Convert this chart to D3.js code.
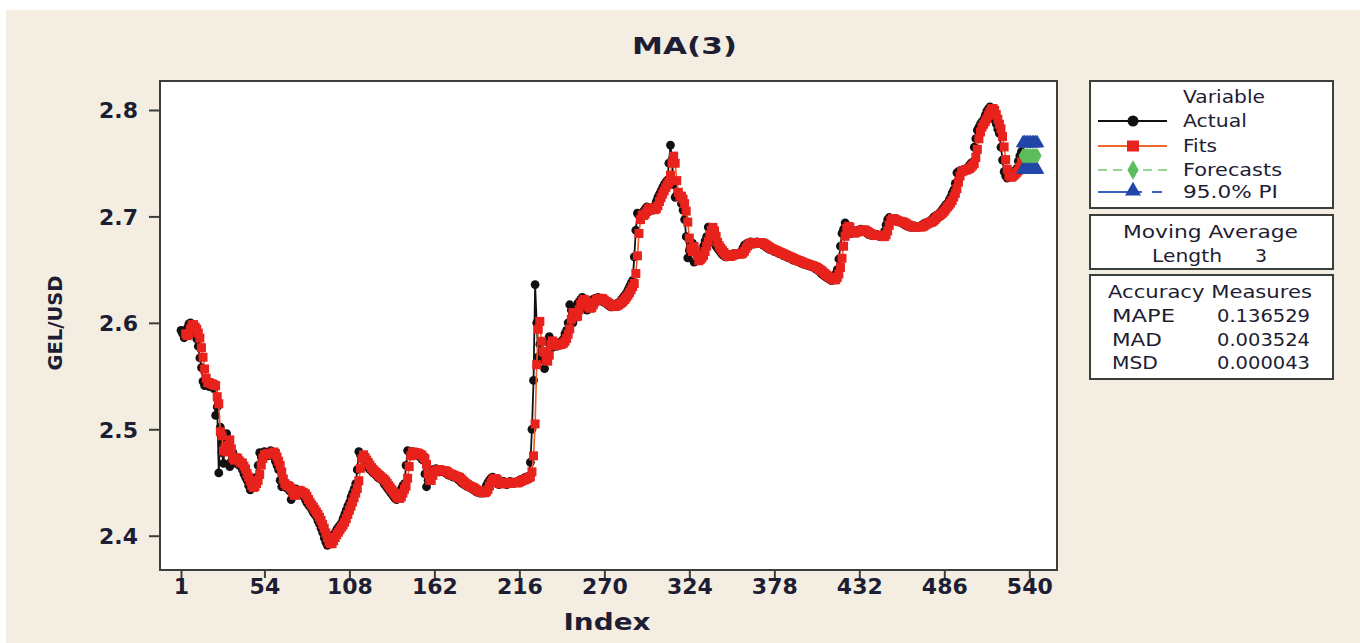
<!DOCTYPE html>
<html><head><meta charset="utf-8">
<script src="https://cdn.jsdelivr.net/npm/d3@7"></script>
<style>
html,body{margin:0;padding:0;background:#ffffff;}
svg{display:block;}
text{font-family:"DejaVu Sans",Verdana,sans-serif;fill:#1d1d33;}
</style></head><body>
<svg id="chart" width="1360" height="643"></svg>
<script>
// ---- data ----
const actual = [
2.593,2.590,2.586,2.588,2.595,2.599,2.600,2.596,2.592,2.594,
2.585,2.578,2.567,2.558,2.545,2.541,2.546,2.543,2.540,2.544,
2.541,2.538,2.513,2.521,2.459,2.502,2.478,2.468,2.490,2.496,
2.484,2.465,2.470,2.478,2.472,2.468,2.471,2.466,2.468,2.462,
2.458,2.455,2.452,2.447,2.443,2.446,2.449,2.452,2.455,2.466,
2.478,2.474,2.476,2.479,2.477,2.475,2.478,2.480,2.478,2.474,
2.470,2.466,2.462,2.452,2.446,2.449,2.447,2.445,2.446,2.442,
2.434,2.438,2.442,2.444,2.442,2.440,2.441,2.440,2.437,2.434,
2.431,2.429,2.427,2.425,2.422,2.420,2.418,2.414,2.411,2.407,
2.403,2.398,2.394,2.391,2.392,2.395,2.399,2.401,2.403,2.406,
2.408,2.410,2.412,2.416,2.420,2.424,2.428,2.431,2.436,2.440,
2.444,2.449,2.462,2.479,2.476,2.473,2.471,2.469,2.466,2.464,
2.462,2.461,2.459,2.458,2.457,2.455,2.454,2.453,2.452,2.449,
2.447,2.445,2.443,2.441,2.439,2.437,2.435,2.434,2.436,2.440,
2.444,2.447,2.449,2.466,2.480,2.479,2.477,2.479,2.478,2.476,
2.478,2.475,2.474,2.472,2.471,2.458,2.446,2.452,2.458,2.460,
2.462,2.461,2.463,2.462,2.460,2.461,2.462,2.460,2.459,2.458,
2.457,2.458,2.456,2.455,2.456,2.455,2.453,2.452,2.450,2.449,
2.448,2.447,2.446,2.446,2.445,2.444,2.443,2.442,2.441,2.441,
2.440,2.441,2.440,2.443,2.447,2.450,2.452,2.454,2.455,2.452,
2.450,2.449,2.448,2.449,2.450,2.451,2.449,2.448,2.450,2.451,
2.450,2.449,2.450,2.450,2.451,2.452,2.453,2.452,2.454,2.455,
2.455,2.456,2.469,2.500,2.546,2.636,2.600,2.568,2.580,2.572,
2.565,2.557,2.570,2.582,2.587,2.580,2.577,2.579,2.581,2.578,
2.580,2.582,2.581,2.585,2.590,2.593,2.600,2.617,2.612,2.600,
2.605,2.614,2.618,2.620,2.622,2.624,2.618,2.615,2.612,2.614,
2.617,2.620,2.622,2.623,2.622,2.624,2.623,2.621,2.620,2.619,
2.619,2.617,2.616,2.615,2.615,2.616,2.617,2.618,2.619,2.620,
2.622,2.624,2.626,2.628,2.631,2.634,2.637,2.640,2.662,2.687,
2.703,2.701,2.700,2.702,2.705,2.707,2.709,2.708,2.707,2.706,
2.706,2.710,2.714,2.718,2.721,2.724,2.727,2.730,2.732,2.734,
2.750,2.767,2.753,2.730,2.718,2.720,2.719,2.718,2.712,2.706,
2.697,2.681,2.661,2.668,2.672,2.675,2.657,2.658,2.660,2.661,
2.662,2.667,2.672,2.677,2.681,2.690,2.690,2.689,2.680,2.675,
2.672,2.670,2.668,2.666,2.664,2.663,2.662,2.662,2.663,2.664,
2.664,2.665,2.665,2.664,2.665,2.665,2.667,2.670,2.673,2.674,
2.675,2.675,2.676,2.675,2.674,2.675,2.676,2.675,2.675,2.674,
2.673,2.672,2.671,2.670,2.669,2.669,2.668,2.667,2.667,2.666,
2.665,2.665,2.664,2.663,2.663,2.662,2.661,2.661,2.660,2.659,
2.659,2.658,2.658,2.657,2.656,2.656,2.655,2.655,2.654,2.654,
2.653,2.653,2.652,2.651,2.650,2.649,2.648,2.646,2.645,2.644,
2.643,2.642,2.641,2.640,2.640,2.642,2.646,2.650,2.660,2.672,
2.684,2.688,2.694,2.690,2.686,2.684,2.684,2.685,2.686,2.686,
2.687,2.687,2.688,2.687,2.686,2.685,2.684,2.683,2.683,2.682,
2.682,2.682,2.683,2.682,2.681,2.681,2.681,2.686,2.692,2.697,
2.699,2.698,2.697,2.696,2.696,2.695,2.695,2.695,2.694,2.693,
2.692,2.691,2.691,2.690,2.690,2.690,2.691,2.690,2.690,2.690,
2.691,2.692,2.693,2.694,2.694,2.695,2.695,2.697,2.699,2.700,
2.701,2.702,2.703,2.705,2.707,2.709,2.711,2.712,2.715,2.718,
2.722,2.725,2.731,2.741,2.742,2.743,2.743,2.744,2.744,2.745,
2.746,2.748,2.750,2.751,2.765,2.773,2.781,2.784,2.787,2.789,
2.791,2.795,2.799,2.801,2.803,2.800,2.796,2.791,2.787,2.782,
2.778,2.765,2.753,2.742,2.738,2.736,2.737,2.738,2.740,2.741,
2.743,2.745,2.752,2.757,2.761
];
const forecastIndex = [536,537,538,539,540,541,542,543,544,545];
const forecast = [2.757,2.757,2.757,2.757,2.757,2.757,2.757,2.757,2.757,2.757];
const upperPI  = [2.769,2.769,2.769,2.769,2.769,2.769,2.769,2.769,2.769,2.769];
const lowerPI  = [2.744,2.744,2.744,2.744,2.744,2.744,2.744,2.744,2.744,2.744];
const xTicks = [1,54,108,162,216,270,324,378,432,486,540];
const yTicks = [2.4,2.5,2.6,2.7,2.8];
const legendLabels = ["Actual","Fits","Forecasts","95.0% PI"];
const accuracyNames = ["MAPE","MAD","MSD"];
const accuracyValues = ["0.136529","0.003524","0.000043"];
const maLength = 3;

// Fits of a moving average of length 3: mean of the 3 previous actual values
const fits = actual.map((v,i)=> i>=maLength ? (actual[i-1]+actual[i-2]+actual[i-3])/3 : null);

const svg = d3.select("#chart");
const ink = "#1d1d33";

// background
svg.append("rect").attr("x",0).attr("y",0).attr("width",1360).attr("height",643).attr("fill","#ffffff");
svg.append("rect").attr("x",6).attr("y",10).attr("width",1354).attr("height",633).attr("fill","#f3ede2");

const L=160, R=1057, T=81, B=570;
const x = d3.scaleLinear().domain([-12.34,557.6]).range([L,R]);
const y = d3.scaleLinear().domain([2.36777,2.82725]).range([B,T]);

svg.append("rect").attr("x",L).attr("y",T).attr("width",R-L).attr("height",B-T)
  .attr("fill","#ffffff").attr("stroke","#3a3f3c").attr("stroke-width",2);

// axes
const xAxis = svg.append("g").attr("transform",`translate(0,${B})`)
  .call(d3.axisBottom(x).tickValues(xTicks).tickSize(8).tickSizeOuter(0).tickPadding(6));
xAxis.select(".domain").remove();
xAxis.selectAll("line").attr("stroke","#3a3f3c").attr("stroke-width",2);
xAxis.selectAll("text").attr("font-size",22).attr("font-weight","bold").attr("fill",ink)
  .attr("font-family","DejaVu Sans").attr("dy","0.62em").attr("y",10);

const yAxis = svg.append("g").attr("transform",`translate(${L},0)`)
  .call(d3.axisLeft(y).tickValues(yTicks).tickFormat(d3.format(".1f")).tickSize(11).tickSizeOuter(0).tickPadding(11));
yAxis.select(".domain").remove();
yAxis.selectAll("line").attr("stroke","#3a3f3c").attr("stroke-width",2);
yAxis.selectAll("text").attr("font-size",22).attr("font-weight","bold").attr("fill",ink)
  .attr("font-family","DejaVu Sans").attr("dy","0.36em");

// titles
svg.append("text").attr("x",684.5).attr("y",54).attr("text-anchor","middle")
  .attr("font-size",23).attr("font-weight","bold").attr("textLength",105).attr("lengthAdjust","spacingAndGlyphs").text("MA(3)");
svg.append("text").attr("x",607).attr("y",630).attr("text-anchor","middle")
  .attr("font-size",23).attr("font-weight","bold").attr("textLength",87).attr("lengthAdjust","spacingAndGlyphs").text("Index");
svg.append("text").attr("transform","translate(62,323) rotate(-90)").attr("text-anchor","middle")
  .attr("font-size",20).attr("font-weight","bold").attr("textLength",95).attr("lengthAdjust","spacingAndGlyphs").text("GEL/USD");

// data
const actualPts = actual.map((v,i)=>({i:i+1,v}));
const fitPts = fits.map((v,i)=>({i:i+1,v})).filter(d=>d.v!==null);
const line = d3.line().x(d=>x(d.i)).y(d=>y(d.v));

const g = svg.append("g");
g.append("path").datum(actualPts).attr("d",line).attr("fill","none").attr("stroke","#111").attr("stroke-width",1.8);
g.selectAll("circle.act").data(actualPts).enter().append("circle").attr("class","act")
  .attr("cx",d=>x(d.i)).attr("cy",d=>y(d.v)).attr("r",4.4).attr("fill","#111");

g.append("path").datum(fitPts).attr("d",line).attr("fill","none").attr("stroke","#ef5a24").attr("stroke-width",1.6);
g.selectAll("rect.fit").data(fitPts).enter().append("rect").attr("class","fit")
  .attr("x",d=>x(d.i)-4.5).attr("y",d=>y(d.v)-4.5).attr("width",9).attr("height",9)
  .attr("fill","#e8221c");

// forecasts and PI
const fcPts = forecast.map((v,k)=>({i:forecastIndex[k],v}));
const upPts = upperPI.map((v,k)=>({i:forecastIndex[k],v}));
const loPts = lowerPI.map((v,k)=>({i:forecastIndex[k],v}));
[upPts,loPts].forEach(pts=>{
  g.append("path").datum(pts).attr("d",line).attr("fill","none").attr("stroke","#3a5fc0").attr("stroke-width",1.5).attr("stroke-dasharray","6,3");
});
g.append("path").datum(fcPts).attr("d",line).attr("fill","none").attr("stroke","#8fd08f").attr("stroke-width",1.5).attr("stroke-dasharray","6,3");
const tri = d3.symbol().type(d3.symbolTriangle).size(90);
const dia = d3.symbol().type(d3.symbolDiamond).size(70);
[upPts,loPts].forEach(pts=>{
  g.selectAll(null).data(pts).enter().append("path").attr("d",tri)
    .attr("transform",d=>`translate(${x(d.i)},${y(d.v)})`).attr("fill","#2146a8");
});
g.selectAll(null).data(fcPts).enter().append("path").attr("d",dia)
  .attr("transform",d=>`translate(${x(d.i)},${y(d.v)})`).attr("fill","#5cbd5c");

// legend boxes
const box = (y0,y1)=>svg.append("rect").attr("x",1090).attr("y",y0).attr("width",243).attr("height",y1-y0)
  .attr("fill","#ffffff").attr("stroke","#3a3f3c").attr("stroke-width",2);
box(81,208); box(215,269); box(275,379);

const txt = (s,xx,yy,w,opts={})=>{
  const t = svg.append("text").attr("x",xx).attr("y",yy).attr("font-size",opts.size||18)
    .attr("textLength",w).attr("lengthAdjust","spacingAndGlyphs").text(s);
  if(opts.anchor) t.attr("text-anchor",opts.anchor);
  return t;
};
txt("Variable",1183,103,82);
const legY = [121,146,170,192];
const legW = [64,34,99,95];
legendLabels.forEach((s,k)=>txt(s,1183,legY[k]+6,legW[k]));
// legend symbols
svg.append("line").attr("x1",1098).attr("x2",1167).attr("y1",legY[0]).attr("y2",legY[0]).attr("stroke","#111").attr("stroke-width",1.8);
svg.append("circle").attr("cx",1133).attr("cy",legY[0]).attr("r",5.5).attr("fill","#111");
svg.append("line").attr("x1",1098).attr("x2",1167).attr("y1",legY[1]).attr("y2",legY[1]).attr("stroke","#ef6a2a").attr("stroke-width",1.8);
svg.append("rect").attr("x",1127).attr("y",legY[1]-5.5).attr("width",12).attr("height",11).attr("fill","#e8221c");
svg.append("line").attr("x1",1098).attr("x2",1167).attr("y1",legY[2]).attr("y2",legY[2]).attr("stroke","#96d596").attr("stroke-width",1.8).attr("stroke-dasharray","9,6");
svg.append("path").attr("d",d3.symbol().type(d3.symbolDiamond).size(110)).attr("transform",`translate(1133,${legY[2]})`).attr("fill","#5cbd5c");
svg.append("line").attr("x1",1098).attr("x2",1167).attr("y1",legY[3]).attr("y2",legY[3]).attr("stroke","#3a5fc0").attr("stroke-width",1.8).attr("stroke-dasharray","44,10,10");
svg.append("path").attr("d",d3.symbol().type(d3.symbolTriangle).size(110)).attr("transform",`translate(1133,${legY[3]-1})`).attr("fill","#2146a8");

txt("Moving Average",1210.5,238,175,{anchor:"middle"});
txt("Length",1152,262,70);
txt(String(maLength),1255,262,12);

txt("Accuracy Measures",1210,298,204,{anchor:"middle"});
const accY=[322,346,369];
const nameW=[63,50,46];
accuracyNames.forEach((s,k)=>{
  txt(s,1112,accY[k],nameW[k]);
  txt(accuracyValues[k],1217,accY[k],93);
});
</script>
</body></html>
